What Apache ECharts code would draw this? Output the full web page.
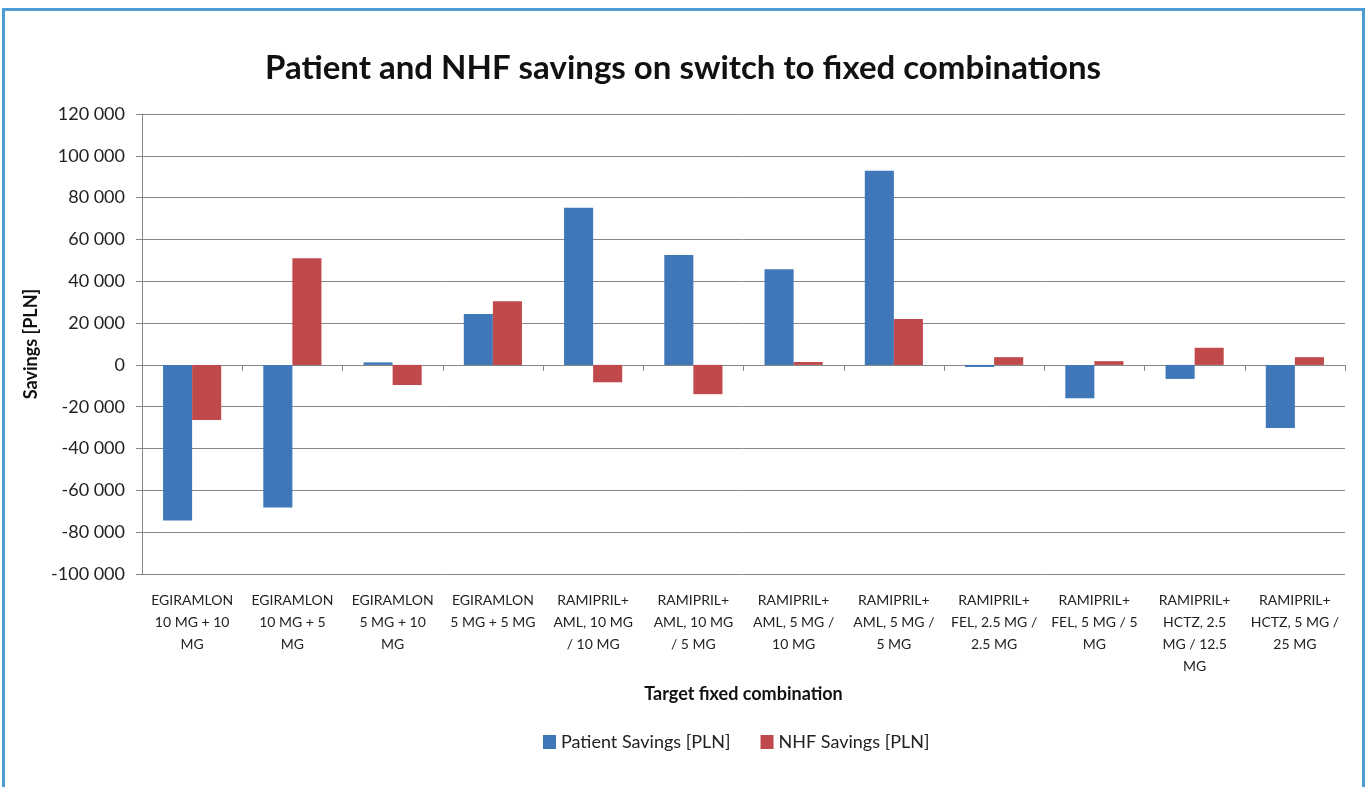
<!DOCTYPE html>
<html>
<head>
<meta charset="utf-8">
<script src="https://cdn.jsdelivr.net/npm/echarts@6/dist/echarts.min.js"></script>
<style>
  html, body { margin: 0; padding: 0; background: #fff; }
  #chart { position: absolute; left: 0; top: 0; width: 1366px; height: 787px; }
  #frame { position: absolute; left: 2px; top: 8px; width: 1357px; height: 800px;
           border: 3px solid #4c9dd5; pointer-events: none; }
</style>
</head>
<body>
<div id="chart"></div>
<div id="frame"></div>
<script>
// categories as they wrap under the axis
const categories = [
  'EGIRAMLON\n10 MG + 10\nMG',
  'EGIRAMLON\n10 MG + 5\nMG',
  'EGIRAMLON\n5 MG + 10\nMG',
  'EGIRAMLON\n5 MG + 5 MG',
  'RAMIPRIL+\nAML, 10 MG\n/ 10 MG',
  'RAMIPRIL+\nAML, 10 MG\n/ 5 MG',
  'RAMIPRIL+\nAML, 5 MG /\n10 MG',
  'RAMIPRIL+\nAML, 5 MG /\n5 MG',
  'RAMIPRIL+\nFEL, 2.5 MG /\n2.5 MG',
  'RAMIPRIL+\nFEL, 5 MG / 5\nMG',
  'RAMIPRIL+\nHCTZ, 2.5\nMG / 12.5\nMG',
  'RAMIPRIL+\nHCTZ, 5 MG /\n25 MG'
];

const patientSavings = [-74400, -68200, 1200, 24400, 75200, 52600, 45700, 92900, -1000, -15900, -6700, -30200];
const nhfSavings = [-26300, 51000, -9600, 30400, -8300, -14000, 1400, 21900, 3700, 1800, 8200, 3700];

const yMin = -100000;
const yMax = 120000;
const yStep = 20000;

const font = 'Lato, "Open Sans", sans-serif';
const axisGray = '#878787';

const myChart = echarts.init(document.getElementById('chart'));

function fmtThousands(v) {
  const s = Math.abs(v).toString().replace(/\B(?=(\d{3})+(?!\d))/g, ' ');
  return (v < 0 ? '-' : '') + s;
}

const option = {
  animation: false,
  textStyle: { fontFamily: font },
  title: {
    text: 'Patient and NHF savings on switch to fixed combinations',
    left: 'center',
    top: 47,
    textStyle: { fontFamily: font, fontSize: 33, fontWeight: 'bold', color: '#111' }
  },
  legend: {
    bottom: 31,
    left: 538,
    itemWidth: 13,
    itemHeight: 14,
    itemGap: 30,
    icon: 'rect',
    textStyle: { fontFamily: font, fontSize: 18, color: '#222' },
    data: ['Patient Savings [PLN]', 'NHF Savings [PLN]']
  },
  grid: { left: 142, right: 21, top: 114, bottom: 213 },
  xAxis: [
    {
      type: 'category',
      data: categories,
      axisLine: { onZero: true, lineStyle: { color: axisGray, width: 1 } },
      axisTick: { show: true, length: 6, lineStyle: { color: axisGray } },
      axisLabel: { show: false }
    },
    {
      type: 'category',
      data: categories,
      position: 'bottom',
      axisLine: { show: false, onZero: false },
      axisTick: { show: false },
      axisLabel: {
        interval: 0,
        margin: 15,
        fontFamily: font,
        fontSize: 14,
        lineHeight: 22,
        color: '#222'
      },
      name: 'Target fixed combination',
      nameLocation: 'middle',
      nameGap: 111,
      nameTextStyle: { fontFamily: font, fontSize: 18, fontWeight: 'bold', color: '#111' }
    }
  ],
  yAxis: {
    type: 'value',
    min: yMin,
    max: yMax,
    interval: yStep,
    axisLine: { show: true, lineStyle: { color: axisGray } },
    axisTick: { show: true, length: 6, lineStyle: { color: axisGray } },
    splitLine: { lineStyle: { color: axisGray, width: 1 } },
    axisLabel: {
      formatter: fmtThousands,
      margin: 17,
      fontFamily: font,
      fontSize: 18,
      color: '#222'
    },
    name: 'Savings [PLN]',
    nameLocation: 'middle',
    nameGap: 96,
    nameTextStyle: { fontFamily: font, fontSize: 18, fontWeight: 'bold', color: '#111' }
  },
  series: [
    {
      name: 'Patient Savings [PLN]',
      type: 'bar',
      xAxisIndex: 0,
      data: patientSavings,
      barGap: '0%',
      barCategoryGap: '42%',
      itemStyle: { color: '#3f77b8' }
    },
    {
      name: 'NHF Savings [PLN]',
      type: 'bar',
      xAxisIndex: 0,
      data: nhfSavings,
      barGap: '0%',
      barCategoryGap: '42%',
      itemStyle: { color: '#c0494b' }
    }
  ]
};

myChart.setOption(option);
</script>
</body>
</html>
